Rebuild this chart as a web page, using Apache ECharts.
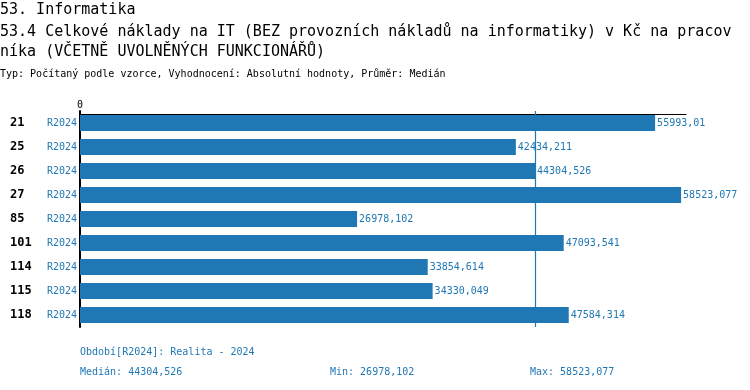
<!DOCTYPE html>
<html><head><meta charset="utf-8">
<script src="https://cdn.jsdelivr.net/npm/echarts@6/dist/echarts.min.js"></script>
<style>html,body{margin:0;padding:0;background:#fff}#c{width:750px;height:390px}</style>
</head><body><div id="c"></div>
<script>
const categories = ['21','25','26','27','85','101','114','115','118'];
const period = 'R2024';
const values = [55993.01, 42434.211, 44304.526, 58523.077, 26978.102, 47093.541, 33854.614, 34330.049, 47584.314];
const median = 44304.526;
const minVal = 26978.102;
const maxVal = 58523.077;
const axisMax = 59000;

const MONO = '"DejaVu Sans Mono", "Liberation Mono", monospace';
const BLUE = '#1f77b4';
const fmt = v => String(v).replace('.', ',');
const t = (text, left, top, size, color) => ({text, left, top, padding: 0, textStyle: {fontFamily: MONO, fontSize: size, fontWeight: 'normal', color}});

const chart = echarts.init(document.getElementById('c'), null, {renderer: 'canvas'});
chart.setOption({
  animation: false,
  backgroundColor: '#fff',
  title: [
    t('53. Informatika', 0, 3, 15, '#000'),
    t('53.4 Celkové náklady na IT (BEZ provozních nákladů na informatiky) v Kč na pracov', 0, 25, 15, '#000'),
    t('níka (VČETNĚ UVOLNĚNÝCH FUNKCIONÁŘŮ)', 0, 45, 15, '#000'),
    t('Typ: Počítaný podle vzorce, Vyhodnocení: Absolutní hodnoty, Průměr: Medián', 0, 69, 10, '#000'),
    t('Období[' + period + ']: Realita - 2024', 80, 347, 10, BLUE),
    t('Medián: ' + fmt(median), 80, 367, 10, BLUE),
    t('Min: ' + fmt(minVal), 330, 367, 10, BLUE),
    t('Max: ' + fmt(maxVal), 530, 367, 10, BLUE)
  ],
  grid: {left: 80, top: 111, width: 606, height: 216, containLabel: false},
  xAxis: {
    type: 'value', position: 'top', min: 0, max: axisMax, interval: axisMax, offset: -3,
    axisLine: {show: true, lineStyle: {color: '#000', width: 1}},
    axisTick: {show: false},
    splitLine: {show: false},
    axisLabel: {show: true, margin: 4, formatter: v => v === 0 ? '0' : '', fontFamily: MONO, fontSize: 10, color: '#000'}
  },
  yAxis: {
    type: 'category', data: categories, inverse: true,
    axisLine: {show: true, lineStyle: {color: '#000', width: 2}},
    axisTick: {show: false},
    axisLabel: {
      margin: 3, align: 'right',
      formatter: v => '{a|' + v + '}{b|' + period + '}',
      rich: {
        a: {fontFamily: MONO, fontSize: 12, fontWeight: 'bold', color: '#000', width: 37, align: 'left'},
        b: {fontFamily: MONO, fontSize: 10, color: BLUE, width: 30, align: 'right'}
      }
    }
  },
  series: [{
    type: 'bar', data: values, barWidth: 16, z: 2,
    itemStyle: {color: BLUE},
    label: {show: true, position: 'right', distance: 2, formatter: p => fmt(p.value), fontFamily: MONO, fontSize: 10, color: BLUE},
    markLine: {
      silent: true, symbol: ['none', 'none'], label: {show: false}, z: 5,
      lineStyle: {color: BLUE, width: 1.2, type: 'solid', opacity: 1},
      emphasis: {disabled: true},
      data: [{xAxis: median, lineStyle: {color: BLUE, width: 1.2, type: 'solid', opacity: 1}}]
    }
  }]
});
</script></body></html>
